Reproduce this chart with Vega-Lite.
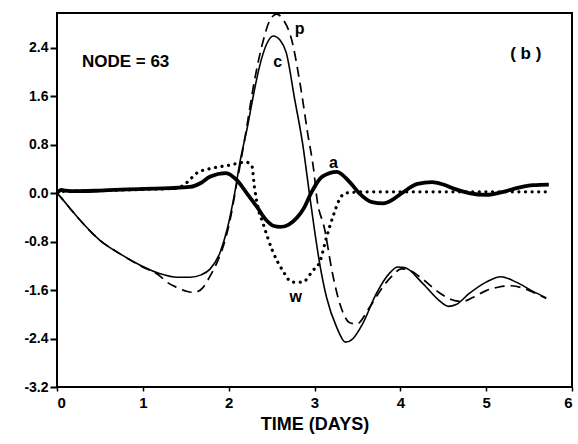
{
  "$schema": "https://vega.github.io/schema/vega-lite/v6.json",
  "width": 515,
  "height": 374,
  "autosize": "none",
  "padding": {"left": 57, "top": 13, "right": 6, "bottom": 57},
  "background": "white",
  "config": {
    "view": {"stroke": "black", "strokeWidth": 2},
    "font": "Liberation Sans"
  },
  "datasets": {
    "curves": [
      {"s": "c", "t": 0, "v": 0}, {"s": "c", "t": 0.05, "v": -0.08}, {"s": "c", "t": 0.15, "v": -0.25}, {"s": "c", "t": 0.27, "v": -0.45}, {"s": "c", "t": 0.5, "v": -0.78}, {"s": "c", "t": 0.73, "v": -1.0}, {"s": "c", "t": 0.97, "v": -1.19}, {"s": "c", "t": 1.2, "v": -1.33}, {"s": "c", "t": 1.4, "v": -1.39}, {"s": "c", "t": 1.55, "v": -1.39}, {"s": "c", "t": 1.68, "v": -1.35}, {"s": "c", "t": 1.78, "v": -1.26}, {"s": "c", "t": 1.9, "v": -0.98}, {"s": "c", "t": 1.98, "v": -0.61}, {"s": "c", "t": 2.07, "v": 0}, {"s": "c", "t": 2.13, "v": 0.5}, {"s": "c", "t": 2.22, "v": 1.1}, {"s": "c", "t": 2.3, "v": 1.7}, {"s": "c", "t": 2.36, "v": 2.09}, {"s": "c", "t": 2.44, "v": 2.45}, {"s": "c", "t": 2.52, "v": 2.59}, {"s": "c", "t": 2.6, "v": 2.52}, {"s": "c", "t": 2.67, "v": 2.32}, {"s": "c", "t": 2.77, "v": 1.54}, {"s": "c", "t": 2.86, "v": 0.83}, {"s": "c", "t": 2.94, "v": 0}, {"s": "c", "t": 3.0, "v": -0.61}, {"s": "c", "t": 3.06, "v": -1.16}, {"s": "c", "t": 3.14, "v": -1.72}, {"s": "c", "t": 3.26, "v": -2.22}, {"s": "c", "t": 3.36, "v": -2.46}, {"s": "c", "t": 3.45, "v": -2.4}, {"s": "c", "t": 3.56, "v": -2.16}, {"s": "c", "t": 3.72, "v": -1.66}, {"s": "c", "t": 3.87, "v": -1.33}, {"s": "c", "t": 3.97, "v": -1.22}, {"s": "c", "t": 4.05, "v": -1.23}, {"s": "c", "t": 4.26, "v": -1.49}, {"s": "c", "t": 4.45, "v": -1.77}, {"s": "c", "t": 4.56, "v": -1.87}, {"s": "c", "t": 4.65, "v": -1.84}, {"s": "c", "t": 4.8, "v": -1.66}, {"s": "c", "t": 5.0, "v": -1.47}, {"s": "c", "t": 5.17, "v": -1.38}, {"s": "c", "t": 5.35, "v": -1.47}, {"s": "c", "t": 5.53, "v": -1.61}, {"s": "c", "t": 5.7, "v": -1.73},

      {"s": "p", "t": 0, "v": 0}, {"s": "p", "t": 0.05, "v": -0.08}, {"s": "p", "t": 0.15, "v": -0.25}, {"s": "p", "t": 0.27, "v": -0.45}, {"s": "p", "t": 0.5, "v": -0.78}, {"s": "p", "t": 0.73, "v": -1.0}, {"s": "p", "t": 0.97, "v": -1.2}, {"s": "p", "t": 1.2, "v": -1.37}, {"s": "p", "t": 1.28, "v": -1.47}, {"s": "p", "t": 1.4, "v": -1.56}, {"s": "p", "t": 1.51, "v": -1.62}, {"s": "p", "t": 1.6, "v": -1.64}, {"s": "p", "t": 1.7, "v": -1.56}, {"s": "p", "t": 1.78, "v": -1.38}, {"s": "p", "t": 1.86, "v": -1.16}, {"s": "p", "t": 1.92, "v": -0.95}, {"s": "p", "t": 2.0, "v": -0.55}, {"s": "p", "t": 2.1, "v": 0.2}, {"s": "p", "t": 2.2, "v": 1.0}, {"s": "p", "t": 2.3, "v": 1.85}, {"s": "p", "t": 2.4, "v": 2.5}, {"s": "p", "t": 2.48, "v": 2.85}, {"s": "p", "t": 2.56, "v": 2.95}, {"s": "p", "t": 2.64, "v": 2.85}, {"s": "p", "t": 2.73, "v": 2.55}, {"s": "p", "t": 2.83, "v": 1.82}, {"s": "p", "t": 2.92, "v": 0.99}, {"s": "p", "t": 3.0, "v": 0.27}, {"s": "p", "t": 3.02, "v": 0}, {"s": "p", "t": 3.12, "v": -0.61}, {"s": "p", "t": 3.21, "v": -1.33}, {"s": "p", "t": 3.31, "v": -1.89}, {"s": "p", "t": 3.41, "v": -2.14}, {"s": "p", "t": 3.49, "v": -2.16}, {"s": "p", "t": 3.64, "v": -1.89}, {"s": "p", "t": 3.79, "v": -1.56}, {"s": "p", "t": 3.91, "v": -1.36}, {"s": "p", "t": 4.01, "v": -1.25}, {"s": "p", "t": 4.1, "v": -1.27}, {"s": "p", "t": 4.26, "v": -1.42}, {"s": "p", "t": 4.45, "v": -1.64}, {"s": "p", "t": 4.6, "v": -1.76}, {"s": "p", "t": 4.72, "v": -1.79}, {"s": "p", "t": 4.85, "v": -1.72}, {"s": "p", "t": 5.0, "v": -1.61}, {"s": "p", "t": 5.15, "v": -1.55}, {"s": "p", "t": 5.3, "v": -1.53}, {"s": "p", "t": 5.45, "v": -1.58}, {"s": "p", "t": 5.55, "v": -1.64}, {"s": "p", "t": 5.7, "v": -1.74},

      {"s": "a", "t": 0, "v": 0}, {"s": "a", "t": 0.05, "v": 0.05}, {"s": "a", "t": 0.1, "v": 0.04}, {"s": "a", "t": 0.2, "v": 0.03}, {"s": "a", "t": 0.5, "v": 0.04}, {"s": "a", "t": 1.0, "v": 0.07}, {"s": "a", "t": 1.31, "v": 0.08}, {"s": "a", "t": 1.55, "v": 0.1}, {"s": "a", "t": 1.68, "v": 0.17}, {"s": "a", "t": 1.78, "v": 0.27}, {"s": "a", "t": 1.97, "v": 0.33}, {"s": "a", "t": 2.09, "v": 0.22}, {"s": "a", "t": 2.21, "v": 0}, {"s": "a", "t": 2.33, "v": -0.23}, {"s": "a", "t": 2.44, "v": -0.45}, {"s": "a", "t": 2.52, "v": -0.54}, {"s": "a", "t": 2.6, "v": -0.56}, {"s": "a", "t": 2.7, "v": -0.52}, {"s": "a", "t": 2.8, "v": -0.4}, {"s": "a", "t": 2.88, "v": -0.24}, {"s": "a", "t": 2.96, "v": 0}, {"s": "a", "t": 3.09, "v": 0.27}, {"s": "a", "t": 3.26, "v": 0.35}, {"s": "a", "t": 3.41, "v": 0.18}, {"s": "a", "t": 3.52, "v": 0}, {"s": "a", "t": 3.67, "v": -0.15}, {"s": "a", "t": 3.8, "v": -0.17}, {"s": "a", "t": 3.92, "v": -0.1}, {"s": "a", "t": 4.02, "v": 0}, {"s": "a", "t": 4.2, "v": 0.15}, {"s": "a", "t": 4.37, "v": 0.18}, {"s": "a", "t": 4.5, "v": 0.14}, {"s": "a", "t": 4.65, "v": 0.06}, {"s": "a", "t": 4.8, "v": 0}, {"s": "a", "t": 5.0, "v": -0.03}, {"s": "a", "t": 5.2, "v": 0.02}, {"s": "a", "t": 5.38, "v": 0.09}, {"s": "a", "t": 5.55, "v": 0.13}, {"s": "a", "t": 5.73, "v": 0.14},

      {"s": "w", "t": 0, "v": 0}, {"s": "w", "t": 0.1, "v": 0.03}, {"s": "w", "t": 0.5, "v": 0.04}, {"s": "w", "t": 1.0, "v": 0.06}, {"s": "w", "t": 1.4, "v": 0.08}, {"s": "w", "t": 1.51, "v": 0.17}, {"s": "w", "t": 1.63, "v": 0.33}, {"s": "w", "t": 1.81, "v": 0.41}, {"s": "w", "t": 2.01, "v": 0.46}, {"s": "w", "t": 2.2, "v": 0.51}, {"s": "w", "t": 2.27, "v": 0.45}, {"s": "w", "t": 2.3, "v": 0.1}, {"s": "w", "t": 2.34, "v": -0.23}, {"s": "w", "t": 2.4, "v": -0.5}, {"s": "w", "t": 2.51, "v": -0.95}, {"s": "w", "t": 2.63, "v": -1.28}, {"s": "w", "t": 2.74, "v": -1.47}, {"s": "w", "t": 2.86, "v": -1.47}, {"s": "w", "t": 2.98, "v": -1.28}, {"s": "w", "t": 3.06, "v": -1.14}, {"s": "w", "t": 3.14, "v": -0.73}, {"s": "w", "t": 3.21, "v": -0.41}, {"s": "w", "t": 3.31, "v": -0.06}, {"s": "w", "t": 3.37, "v": 0}, {"s": "w", "t": 3.6, "v": 0.02}, {"s": "w", "t": 4.0, "v": 0.02}, {"s": "w", "t": 5.0, "v": 0.02}, {"s": "w", "t": 5.73, "v": 0.02}
    ],
    "labels": [
      {"t": 0.29, "v": 2.16, "label": "NODE = 63", "kind": "big"},
      {"t": 5.28, "v": 2.29, "label": "( b )", "kind": "big"},
      {"t": 2.52, "v": 2.16, "label": "c", "kind": "small"},
      {"t": 2.77, "v": 2.7, "label": "p", "kind": "small"},
      {"t": 3.17, "v": 0.5, "label": "a", "kind": "small"},
      {"t": 2.71, "v": -1.72, "label": "w", "kind": "small"}
    ]
  },
  "encoding": {
    "x": {
      "field": "t", "type": "quantitative",
      "scale": {"domain": [0, 6], "nice": false, "zero": false},
      "axis": {
        "title": "TIME (DAYS)", "values": [0, 1, 2, 3, 4, 5, 6], "format": "d",
        "domain": false, "grid": false, "tickSize": 4, "tickColor": "black", "tickWidth": 1.5,
        "labelFont": "Liberation Sans", "labelFontSize": 15, "labelFontWeight": "bold", "labelColor": "black", "labelPadding": 4,
        "titleFont": "Liberation Sans", "titleFontSize": 18, "titleFontWeight": "bold", "titleColor": "black", "titlePadding": 5
      }
    },
    "y": {
      "field": "v", "type": "quantitative",
      "scale": {"domain": [-3.2, 2.97], "nice": false, "zero": false},
      "axis": {
        "title": null, "values": [-3.2, -2.4, -1.6, -0.8, 0, 0.8, 1.6, 2.4],
        "labelExpr": "(datum.value < 0 ? '-' : '') + format(abs(datum.value), '.1f')",
        "domain": false, "grid": false, "tickSize": 7, "tickColor": "black", "tickWidth": 2,
        "labelFont": "Liberation Sans", "labelFontSize": 14, "labelFontWeight": "bold", "labelColor": "black", "labelPadding": 2
      }
    }
  },
  "layer": [
    {
      "mark": {"type": "rule", "color": "black", "strokeWidth": 1.5},
      "encoding": {"y": {"datum": 0, "type": "quantitative"}, "x": null}
    },
    {
      "data": {"name": "curves"},
      "transform": [{"filter": "datum.s === 'c'"}],
      "mark": {"type": "line", "color": "black", "interpolate": "monotone", "clip": true, "strokeWidth": 1.6}
    },
    {
      "data": {"name": "curves"},
      "transform": [{"filter": "datum.s === 'p'"}],
      "mark": {"type": "line", "color": "black", "interpolate": "monotone", "clip": true, "strokeWidth": 1.7, "strokeDash": [10, 6]}
    },
    {
      "data": {"name": "curves"},
      "transform": [{"filter": "datum.s === 'a'"}],
      "mark": {"type": "line", "color": "black", "interpolate": "monotone", "clip": true, "strokeWidth": 3.8}
    },
    {
      "data": {"name": "curves"},
      "transform": [{"filter": "datum.s === 'w'"}],
      "mark": {"type": "line", "color": "black", "interpolate": "monotone", "clip": true, "strokeWidth": 3.2, "strokeDash": [0.1, 6.5], "strokeCap": "round"}
    },
    {
      "data": {"name": "labels"},
      "transform": [{"filter": "datum.kind === 'big'"}],
      "mark": {"type": "text", "align": "left", "baseline": "middle", "font": "Liberation Sans", "fontSize": 17, "fontWeight": "bold", "color": "black"},
      "encoding": {"text": {"field": "label"}}
    },
    {
      "data": {"name": "labels"},
      "transform": [{"filter": "datum.kind === 'small'"}],
      "mark": {"type": "text", "align": "left", "baseline": "middle", "font": "Liberation Sans", "fontSize": 16, "fontWeight": "bold", "color": "black"},
      "encoding": {"text": {"field": "label"}}
    }
  ]
}
